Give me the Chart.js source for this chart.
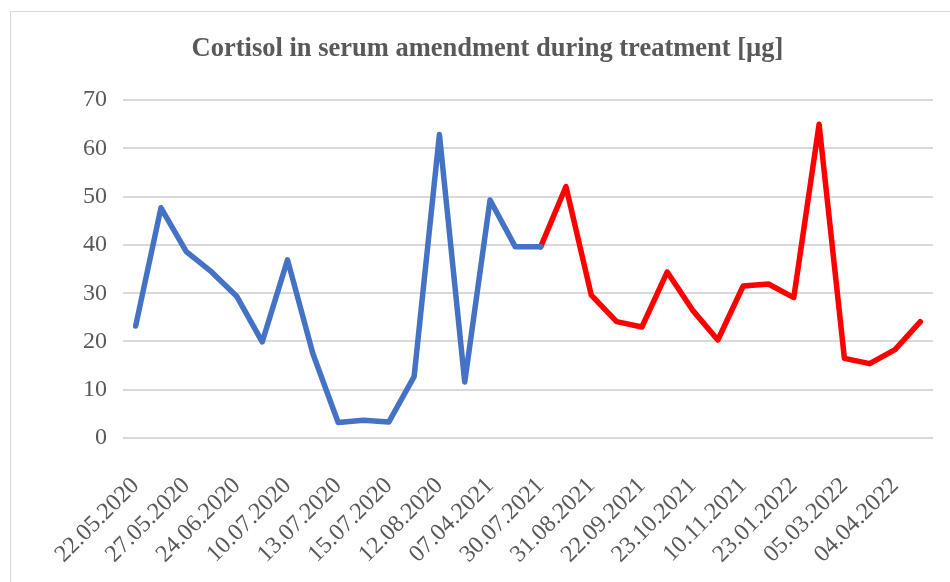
<!DOCTYPE html>
<html>
<head>
<meta charset="utf-8">
<script src="https://cdn.jsdelivr.net/npm/chart.js@4"></script>
<style>
    html, body { margin: 0; padding: 0; background: #fff; }
    #wrap { position: relative; width: 950px; height: 582px; overflow: hidden; }
    #frame { position: absolute; left: 10px; top: 11px; width: 1000px; height: 700px; border: 1px solid #d9d9d9; }
    #chart { position: absolute; left: 0; top: 0; }
</style>
</head>
<body>
<div id="wrap">
    <div id="frame"></div>
    <canvas id="chart" width="950" height="582"></canvas>
</div>
<script>
// 라벨 (두 칸마다 하나씩 표시됨)
const dateLabels = ['22.05.2020', '27.05.2020', '24.06.2020', '10.07.2020', '13.07.2020', '15.07.2020',
    '12.08.2020', '07.04.2021', '30.07.2021', '31.08.2021', '22.09.2021', '23.10.2021',
    '10.11.2021', '23.01.2022', '05.03.2022', '04.04.2022'];

// 첫 구간 (파랑)
const blueValues = [23.2, 47.7, 38.6, 34.4, 29.3, 19.9, 36.9, 17.5, 3.2, 3.7,
    3.3, 12.7, 62.9, 11.6, 49.3, 39.6, 39.6];

// 두번째 구간 (빨강) - 파랑 마지막 점에서 시작
const redValues = [39.6, 52.1, 29.6, 24.1, 23.0, 34.4, 26.5, 20.3, 31.5, 31.9,
    29.1, 65.0, 16.5, 15.4, 18.3, 24.1];

const yTicks = [0, 10, 20, 30, 40, 50, 60, 70];

const pointCount = blueValues.length + redValues.length - 1;
const redStart = blueValues.length - 1;

const categories = [];
for (let i = 0; i < pointCount; i++) {
    categories.push(i % 2 === 0 ? dateLabels[i / 2] : '');
}

const blueData = categories.map((c, i) => i < blueValues.length ? blueValues[i] : null);
const redData = categories.map((c, i) => i >= redStart ? redValues[i - redStart] : null);

const textColor = '#595959';
const serif = '"Liberation Serif", "Times New Roman", serif';

const ctx = document.getElementById('chart').getContext('2d');
new Chart(ctx, {
    type: 'line',
    data: {
        labels: categories,
        datasets: [
            {
                data: blueData,
                borderColor: '#4472C4',
                borderWidth: 5.5,
                pointRadius: 0,
                borderJoinStyle: 'round',
                borderCapStyle: 'round'
            },
            {
                data: redData,
                borderColor: '#FF0000',
                borderWidth: 5.5,
                pointRadius: 0,
                borderJoinStyle: 'round',
                borderCapStyle: 'round'
            }
        ]
    },
    options: {
        responsive: false,
        animation: false,
        layout: {
            // 왼쪽 여백은 제목 중앙 위치 맞추기용
            padding: { left: 42, right: 17, top: 0, bottom: 0 }
        },
        plugins: {
            legend: { display: false },
            tooltip: { enabled: false },
            title: {
                display: true,
                text: 'Cortisol in serum amendment during treatment [µg]',
                color: textColor,
                font: { family: serif, size: 26.5, weight: 'bold', lineHeight: 1.1 },
                padding: { top: 35, bottom: 36 }
            }
        },
        scales: {
            x: {
                offset: true,
                grid: { display: false, drawTicks: false },
                border: { display: false },
                ticks: {
                    autoSkip: false,
                    maxRotation: 45,
                    minRotation: 45,
                    padding: 34,
                    color: textColor,
                    font: { family: serif, size: 24 }
                },
                afterFit: function(scale) {
                    scale.height = 144;
                    scale.paddingLeft = 0;
                    scale.paddingRight = 0;
                }
            },
            y: {
                min: 0,
                max: 70,
                grid: { color: '#d9d9d9', lineWidth: 2, drawTicks: false },
                border: { display: false },
                afterBuildTicks: function(scale) {
                    scale.ticks = yTicks.map(v => ({ value: v }));
                },
                ticks: {
                    padding: 16,
                    color: textColor,
                    font: { family: serif, size: 24 }
                },
                afterFit: function(scale) {
                    scale.width = 81;
                }
            }
        }
    }
});
</script>
</body>
</html>
